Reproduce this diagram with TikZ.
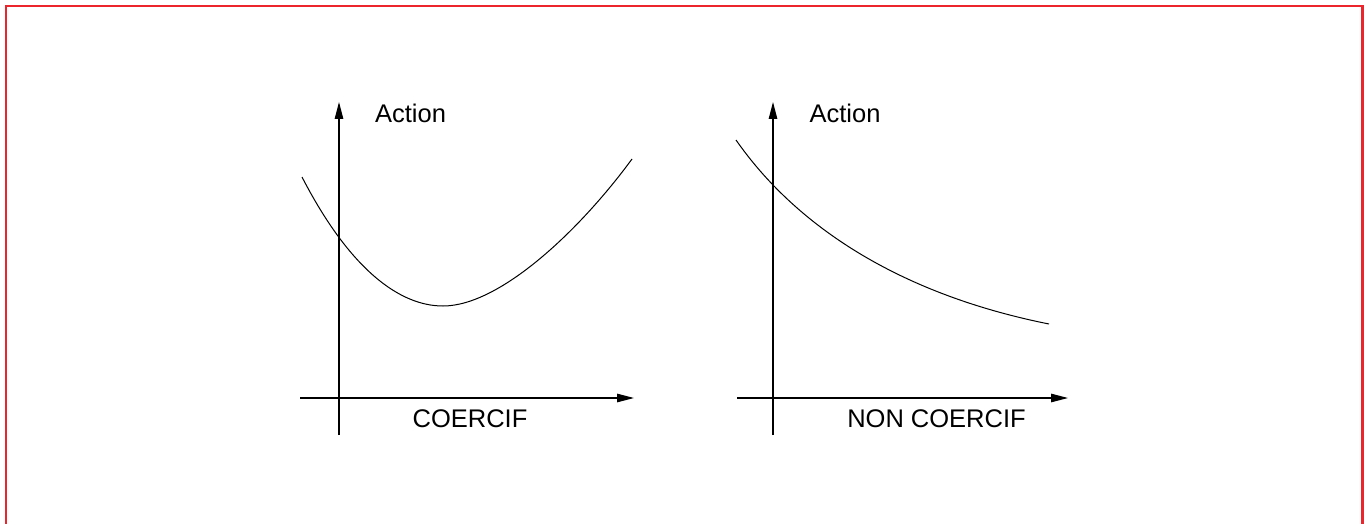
\documentclass[tikz,border=0pt]{standalone}
\usepackage{fontspec}
\setmainfont{Liberation Sans}
\usetikzlibrary{arrows.meta}
\definecolor{frame}{RGB}{236,36,44}
\begin{document}
\begin{tikzpicture}[x=1pt,y=-1pt,
  axis/.style={line width=1.2pt,-{Triangle[length=17pt,width=8.5pt]}},
  curve/.style={line width=1pt},
  lab/.style={inner sep=0pt,font=\fontsize{25.5pt}{30pt}\selectfont}]
\useasboundingbox (0,0) rectangle (1369,524);
\draw[frame,line width=2.6pt] (6,540) -- (6,6) -- (1362.7,6) -- (1362.7,540);
% left chart
\coordinate (lyb) at (339,435);
\coordinate (lyt) at (339,102);
\coordinate (lxl) at (300,398);
\coordinate (lxr) at (634,398);
\draw[axis] (lyb) -- (lyt);
\draw[axis] (lxl) -- (lxr);
\node[lab] (la) at (410.5,113) {Action};
\node[lab] (lc) at (470,419) {COERCIF};
\coordinate (c1s) at (302,177);
\coordinate (c1m) at (443,306);
\coordinate (c1e) at (632,159);
\draw[curve] (c1s) .. controls (350,270) and (400,306) .. (c1m)
  .. controls (500,306) and (580,230) .. (c1e);
% right chart
\coordinate (ryb) at (773,435);
\coordinate (ryt) at (773,102);
\coordinate (rxl) at (737,398);
\coordinate (rxr) at (1068,398);
\draw[axis] (ryb) -- (ryt);
\draw[axis] (rxl) -- (rxr);
\node[lab] (ra) at (845,113) {Action};
\node[lab] (rc) at (936.5,419) {NON COERCIF};
\coordinate (c2s) at (736,140);
\coordinate (c2e) at (1049,324);
\draw[curve] (c2s) .. controls (796,226) and (899,294) .. (c2e);
\end{tikzpicture}
\end{document}
